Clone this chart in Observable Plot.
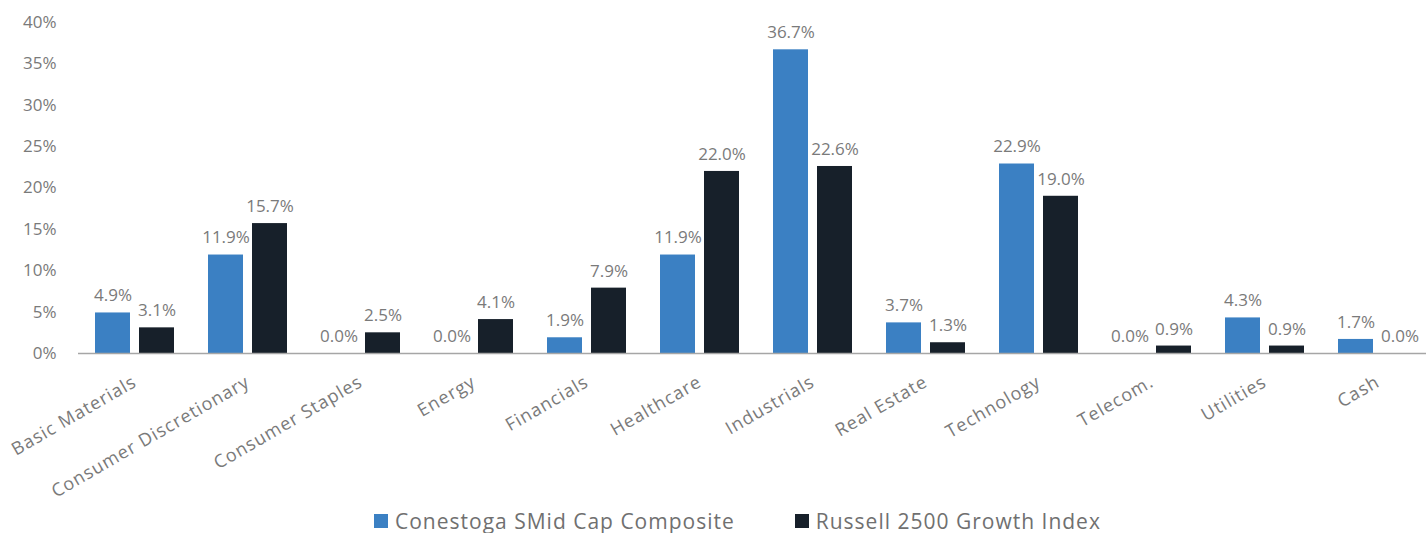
<!DOCTYPE html>
<html>
<head>
<meta charset="utf-8">
<script src="https://cdn.jsdelivr.net/npm/d3@7"></script>
<script src="https://cdn.jsdelivr.net/npm/@observablehq/plot@0.6"></script>
<style>
  html, body { margin: 0; padding: 0; background: #fff; }
  body { width: 1426px; height: 533px; overflow: hidden; font-family: "Open Sans", sans-serif; }
  #legend { display: flex; align-items: center; height: 38px; margin-top: 7px; padding-left: 374px; color: #707070; font-size: 21px; letter-spacing: 1px; }
  #legend .item { display: flex; align-items: center; margin-right: 60px; }
  #legend .sw { width: 14px; height: 14px; margin-right: 7px; }
  g[aria-label="x-axis tick label"] text { letter-spacing: 1px; }
</style>
</head>
<body>
<div id="chart"></div>
<div id="legend"></div>
<script>
const categories = ["Basic Materials", "Consumer Discretionary", "Consumer Staples", "Energy", "Financials", "Healthcare", "Industrials", "Real Estate", "Technology", "Telecom.", "Utilities", "Cash"];
const seriesNames = ["Conestoga SMid Cap Composite", "Russell 2500 Growth Index"];
const conestoga = [4.9, 11.9, 0.0, 0.0, 1.9, 11.9, 36.7, 3.7, 22.9, 0.0, 4.3, 1.7];
const russell = [3.1, 15.7, 2.5, 4.1, 7.9, 22.0, 22.6, 1.3, 19.0, 0.9, 0.9, 0.0];
const yTicks = [0, 5, 10, 15, 20, 25, 30, 35, 40];
const colors = ["#3b80c3", "#17202a"];

const rowsA = categories.map((c, i) => ({category: c, series: seriesNames[0], value: conestoga[i]}));
const rowsB = categories.map((c, i) => ({category: c, series: seriesNames[1], value: russell[i]}));
const fmt = d => d.value.toFixed(1) + "%";
const grey = "#7a7a7a";

const chart = Plot.plot({
  width: 1426,
  height: 495,
  marginLeft: 78,
  marginRight: 0,
  marginTop: 22,
  marginBottom: 142,
  style: {fontFamily: "Open Sans, sans-serif", fontSize: "17px", color: grey, background: "#fff", overflow: "visible"},
  x: {domain: categories, range: [78, 1434], padding: 0, label: null},
  y: {domain: [0, 40], ticks: yTicks, tickFormat: d => d + "%", tickSize: 0, tickPadding: 22, label: null},
  marks: [
    Plot.axisX({tickSize: 0, tickRotate: -30, tickPadding: 27, fontSize: 18, label: null}),
    Plot.barY(rowsA, {x: "category", y: "value", fill: colors[0], insetLeft: 17, insetRight: 61}),
    Plot.barY(rowsB, {x: "category", y: "value", fill: colors[1], insetLeft: 61, insetRight: 17}),
    Plot.ruleY([0], {stroke: "#a6a6a6", strokeWidth: 1.5}),
    Plot.text(rowsA, {x: "category", y: "value", text: fmt, dx: -22, dy: -17, fill: grey, fontSize: 17}),
    Plot.text(rowsB, {x: "category", y: "value", text: fmt, dx: 22, dy: -17, fill: grey, fontSize: 17})
  ]
});
document.getElementById("chart").appendChild(chart);

const legend = document.getElementById("legend");
seriesNames.forEach((name, i) => {
  const item = document.createElement("div");
  item.className = "item";
  const sw = document.createElement("div");
  sw.className = "sw";
  sw.style.background = colors[i];
  const label = document.createElement("span");
  label.textContent = name;
  item.appendChild(sw);
  item.appendChild(label);
  legend.appendChild(item);
});
</script>
</body>
</html>
